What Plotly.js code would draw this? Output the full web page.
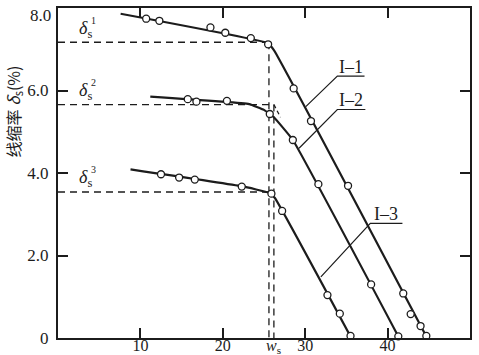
<!DOCTYPE html>
<html><head><meta charset="utf-8">
<script src="https://cdn.plot.ly/plotly-3.0.1.min.js"></script>
<style>html,body{margin:0;padding:0;background:#fff}#chart{width:479px;height:355px}</style>
</head><body><div id="chart"></div>
<script>
// ---- data ----
const xTicks = [10, 20, 30, 40];
const yTicks = [0, 2, 4, 6, 8];
const yTickText = ['0', '2.0', '4.0', '6.0', ''];
const yTopLabel = '8.0';

// measured points (open circles)
const i1X = [10.7, 12.3, 18.5, 20.3, 23.4, 25.5, 28.6, 30.7, 35.2, 41.9, 42.8, 44.0, 44.7];
const i1Y = [7.74, 7.69, 7.53, 7.40, 7.27, 7.12, 6.05, 5.26, 3.69, 1.08, 0.58, 0.29, 0.05];
const i2X = [15.75, 16.8, 20.5, 25.7, 28.5, 31.6, 38.0, 41.3];
const i2Y = [5.79, 5.73, 5.75, 5.43, 4.80, 3.73, 1.30, 0.04];
const i3X = [12.5, 14.7, 16.6, 22.3, 25.9, 27.2, 32.7, 34.2, 35.5];
const i3Y = [3.97, 3.89, 3.84, 3.67, 3.50, 3.08, 1.04, 0.59, 0.05];

// fitted curves
const fit1X = [7.6, 25.4, 26.2, 44.8];
const fit1Y = [7.86, 7.15, 6.98, 0];
const fit2X = [11.2, 23.2, 25.0, 26.2, 28.5, 41.4];
const fit2Y = [5.85, 5.67, 5.53, 5.35, 4.80, 0];
const fit3X = [8.8, 22.3, 25.6, 26.3, 35.6];
const fit3Y = [4.09, 3.68, 3.52, 3.40, 0];

// shrinkage levels δs and the critical water contents ws
const deltaS = [7.17, 5.66, 3.54];
const deltaNames = ['1', '2', '3'];
const wsX = [25.6, 26.2, 25.6];
const tangentX = [26.2, 27.0];
const tangentY = [5.66, 5.35];

// curve labels
const curveNames = ['I–1', 'I–2', 'I–3'];
const labelLineX0 = [33.9, 33.9, 37.9];
const labelLineX1 = [37.2, 37.3, 41.8];
const labelLineY = [6.35, 5.54, 2.78];
const leaderX = [30.07, 29.25, 31.9];
const leaderY = [5.61, 4.60, 1.48];

const INK = '#1c1c1c';
const traces = [];

// dashed guide lines
for (let k = 0; k < deltaS.length; k++) {
  traces.push({x: [0, wsX[k]], y: [deltaS[k], deltaS[k]], mode: 'lines',
    line: {color: INK, width: 1.3, dash: '7px,5px'}, hoverinfo: 'skip'});
}
traces.push({x: [wsX[0], wsX[0]], y: [deltaS[0], 0], mode: 'lines',
  line: {color: INK, width: 1.3, dash: '7px,5px'}, hoverinfo: 'skip'});
traces.push({x: [wsX[1], wsX[1]], y: [deltaS[1], 0], mode: 'lines',
  line: {color: INK, width: 1.3, dash: '7px,5px'}, hoverinfo: 'skip'});
traces.push({x: tangentX, y: tangentY, mode: 'lines',
  line: {color: INK, width: 1.3, dash: '4px,3px'}, hoverinfo: 'skip'});

// fitted curves
[[fit1X, fit1Y], [fit2X, fit2Y], [fit3X, fit3Y]].forEach(([fx, fy]) => {
  traces.push({x: fx, y: fy, mode: 'lines', line: {color: INK, width: 2.2, shape: 'spline', smoothing: 0.3}, hoverinfo: 'skip'});
});

// leader lines and underlines
for (let k = 0; k < curveNames.length; k++) {
  traces.push({x: [leaderX[k], labelLineX0[k], labelLineX1[k]], y: [leaderY[k], labelLineY[k], labelLineY[k]],
    mode: 'lines', line: {color: INK, width: 1.2}, hoverinfo: 'skip'});
}

// markers
[[i1X, i1Y], [i2X, i2Y], [i3X, i3Y]].forEach(([mx, my]) => {
  traces.push({x: mx, y: my, mode: 'markers', cliponaxis: false,
    marker: {symbol: 'circle', size: 7, color: '#fff', line: {color: INK, width: 1.3}}, hoverinfo: 'skip'});
});

const annotations = [];
for (let k = 0; k < curveNames.length; k++) {
  annotations.push({x: (labelLineX0[k] + labelLineX1[k]) / 2, y: labelLineY[k], xref: 'x', yref: 'y',
    text: curveNames[k], showarrow: false, yanchor: 'bottom', yshift: -3,
    font: {family: 'Liberation Serif', size: 18, color: INK}});
}
for (let k = 0; k < deltaS.length; k++) {
  annotations.push({x: 2.3, y: deltaS[k], xref: 'x', yref: 'y', xanchor: 'left', yanchor: 'middle', yshift: 13,
    text: '<i>δ</i><sub>s</sub>', showarrow: false, font: {family: 'Liberation Serif', size: 18, color: INK}});
  annotations.push({x: 2.3, y: deltaS[k], xref: 'x', yref: 'y', xanchor: 'left', yanchor: 'middle', yshift: 22, xshift: 12,
    text: deltaNames[k], showarrow: false, font: {family: 'Liberation Serif', size: 10, color: INK}});
}
// top y tick label (kept inside the page)
annotations.push({x: 0, y: 8, xref: 'paper', yref: 'y', xanchor: 'right', yanchor: 'top', xshift: -5, yshift: 4,
  text: yTopLabel, showarrow: false, font: {family: 'Liberation Serif', size: 17, color: INK}});
// ws tick label
annotations.push({x: wsX[1], y: 0, xref: 'x', yref: 'paper', yanchor: 'top', yshift: 3,
  text: '<i>w</i><sub>s</sub>', showarrow: false, font: {family: 'Liberation Serif', size: 16, color: INK}});
// y axis title
annotations.push({x: -0.108, y: 0.685, xref: 'paper', yref: 'paper', xanchor: 'center', yanchor: 'middle',
  textangle: -90, showarrow: false, text: '线缩率 <i>δ</i><sub>s</sub>(%)',
  font: {family: 'Noto Sans CJK SC', size: 16, color: INK}});

const axisCommon = {showline: true, linewidth: 2, linecolor: INK, mirror: 'ticks', ticks: 'inside',
  ticklen: 10, tickwidth: 2, tickcolor: INK, showgrid: false, zeroline: false,
  tickfont: {family: 'Liberation Serif', size: 17, color: INK}};

const layout = {
  width: 479, height: 355,
  margin: {l: 58, r: 9, t: 8, b: 17},
  paper_bgcolor: '#fff', plot_bgcolor: '#fff',
  showlegend: false,
  xaxis: Object.assign({}, axisCommon, {range: [0, 50], tickvals: xTicks, ticklabelstandoff: -8,
    tickfont: {family: 'Liberation Serif', size: 16, color: INK}}),
  yaxis: Object.assign({}, axisCommon, {range: [0, 8], tickvals: yTicks, ticktext: yTickText, ticklabelstandoff: 4}),
  annotations: annotations
};

Plotly.newPlot('chart', traces, layout, {staticPlot: true});
</script>
</body></html>
